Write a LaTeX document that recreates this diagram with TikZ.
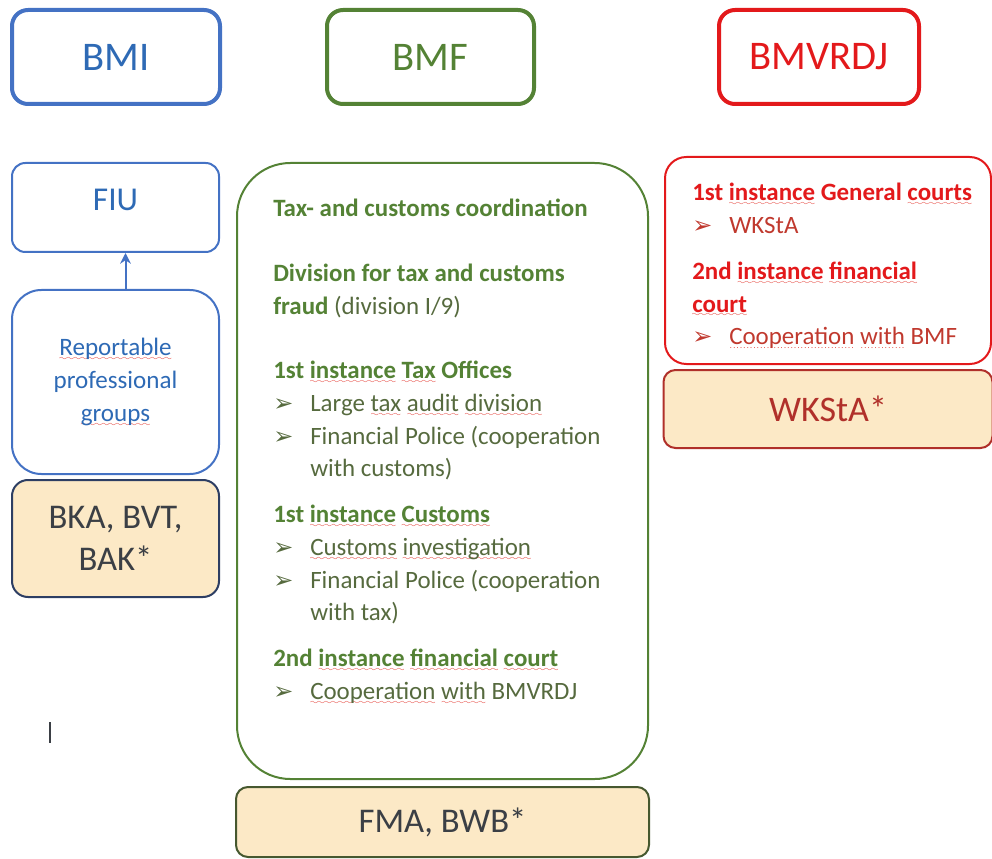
\documentclass[tikz,border=0pt]{standalone}
\usepackage{fontspec}
\setmainfont{Carlito}
\newfontfamily\arrfont{DejaVu Sans}
\usepackage{tikz}
\usetikzlibrary{positioning,arrows.meta}

\definecolor{bmiblue}{HTML}{4472C4}
\definecolor{bmitext}{HTML}{2E6AB5}
\definecolor{bmfgreen}{HTML}{548235}
\definecolor{bmftext}{HTML}{566A3E}
\definecolor{bmjred}{HTML}{E3191B}
\definecolor{bmjtext}{HTML}{C0392E}
\definecolor{darkred}{HTML}{B0302A}
\definecolor{cream}{HTML}{FCE9C6}
\definecolor{navy}{HTML}{2D3E63}
\definecolor{olive}{HTML}{46582F}
\definecolor{inkgray}{HTML}{3B3F45}
\definecolor{squig}{HTML}{E0241B}

%% spell-check marks under single words
\font\sixly=lasy6
\newsavebox{\wvbox}
\newcommand{\wv}[1]{\sbox{\wvbox}{#1}%
  \rlap{\lower3.5pt\hbox to\wd\wvbox{\color{squig}\xleaders\hbox{\sixly\char58}\hfill}}#1}
\newcommand{\dl}[1]{\sbox{\wvbox}{#1}%
  \rlap{\lower3pt\hbox to\wd\wvbox{\color{squig}\xleaders\hbox{\kern.5pt\fontsize{6}{6}\selectfont.\kern.5pt}\hfill}}#1}
%% bullet and hanging indent
\newcommand{\itm}{\makebox[27.75pt][l]{\arrfont\fontsize{18}{18}\selectfont ➢}}
\newcommand{\ind}{\hspace*{27.75pt}}
\newcommand{\grnhd}[1]{\textcolor{bmfgreen}{\textbf{#1}}}
\newcommand{\redhd}[1]{\textcolor{bmjred}{\textbf{#1}}}

\begin{document}
\begin{tikzpicture}[
  x=0.75pt, y=-0.75pt,
  %% Box styles
  headbox/.style = {draw, line width=3pt, rounded corners=12pt,
                    minimum height=70.5pt, inner sep=0pt,
                    font=\fontsize{30.5}{34}\selectfont},
  subbox/.style  = {draw, line width=1.5pt, align=center, inner sep=0pt},
  agency/.style  = {draw, fill=cream, line width=1.5pt, rounded corners=9pt,
                    align=center, inner sep=0pt, text=inkgray,
                    font=\fontsize{26}{32}\selectfont},
  bodytxt/.style = {align=left, inner sep=0pt,
                    font=\fontsize{18.7}{24.5}\selectfont},
  arr/.style     = {-{Stealth[length=8pt,width=8pt]}, line width=1.5pt, bmiblue},
]
\useasboundingbox (0,0) rectangle (992,859);

%% ── Row 0: Ministries ──────────────────────────────────────────
\node[headbox, draw=bmiblue, text=bmitext, minimum width=156pt] (bmi) at (116,57) {BMI};
\node[headbox, draw=bmfgreen, text=bmfgreen, minimum width=155.25pt] (bmf) at (430.5,57) {BMF};
\node[headbox, draw=bmjred, text=bmjred, minimum width=150pt] (bmj) at (819,57) {BMVRDJ};

%% ── Left column: BMI ───────────────────────────────────────────
\node[subbox, draw=bmiblue, text=bmitext, rounded corners=10pt,
      minimum width=155.25pt, minimum height=66.75pt,
      font=\fontsize{25}{28}\selectfont] (fiu) at (115.5,207.5)
  {\raisebox{6pt}[\height][\depth]{FIU}};

\node[subbox, draw=bmiblue, text=bmitext, rounded corners=22pt,
      minimum width=155.25pt, minimum height=138pt,
      font=\fontsize{18.8}{24.75}\selectfont] (rep) at (115.5,382)
  {\wv{Reportable}\\professional\\\wv{groups}};

\node[agency, draw=navy, rounded corners=12pt, below=3pt of rep,
      minimum width=155.25pt, minimum height=87.75pt] (bka)
  {BKA, BVT,\\BAK*};

%% ── Middle column: BMF ─────────────────────────────────────────
\node[subbox, draw=bmfgreen, rounded corners=40pt,
      minimum width=308.25pt, minimum height=462pt] (fin) at (442.5,471) {};

\node[bodytxt, text=bmftext, anchor=north west] (fintxt) at (273,199) {%
  \grnhd{Tax- and customs coordination}\\[24pt]
  \grnhd{Division for tax and customs}\\
  \grnhd{fraud} (division I/9)\\[24pt]
  \grnhd{1st \wv{instance} \wv{Tax} Offices}\\
  \itm Large \wv{tax} \wv{audit} \wv{division}\\
  \itm Financial Police (cooperation\\
  \ind with customs)\\[10pt]
  \grnhd{1st \wv{instance} \wv{Customs}}\\
  \itm \wv{Customs} \wv{investigation}\\
  \itm Financial Police (cooperation\\
  \ind with tax)\\[10pt]
  \grnhd{2nd \wv{instance} \wv{financial} \wv{court}}\\
  \itm \wv{Cooperation} \wv{with} BMVRDJ};

\node[agency, draw=olive, below=4.5pt of fin,
      minimum width=309.75pt, minimum height=52.5pt] (fma) {FMA, BWB*};

%% ── Right column: BMVRDJ ───────────────────────────────────────
\node[subbox, draw=bmjred, rounded corners=16pt,
      minimum width=244.5pt, minimum height=155.25pt] (crt) at (828,260.5) {};

\node[bodytxt, text=bmjtext, anchor=north west] (crttxt) at (692,183) {%
  \redhd{1st \wv{instance} General \wv{courts}}\\
  \itm WKStA\\[10pt]
  \redhd{2nd \wv{instance} \wv{financial}}\\
  \redhd{\wv{court}}\\
  \itm \dl{Cooperation} \dl{with} BMF};

\node[agency, draw=darkred, text=darkred, below=3pt of crt,
      font=\fontsize{27}{32}\selectfont,
      minimum width=246.75pt, minimum height=58.5pt] (wks) {WKStA*};

%% ── Arrow: reporting → FIU ─────────────────────────────────────
\draw[arr] ([xshift=7.5pt]rep.north) -- ([xshift=7.5pt]fiu.south);

%% text cursor
\draw[line width=1pt, inkgray] (50,722) -- (50,743);

\end{tikzpicture}
\end{document}
